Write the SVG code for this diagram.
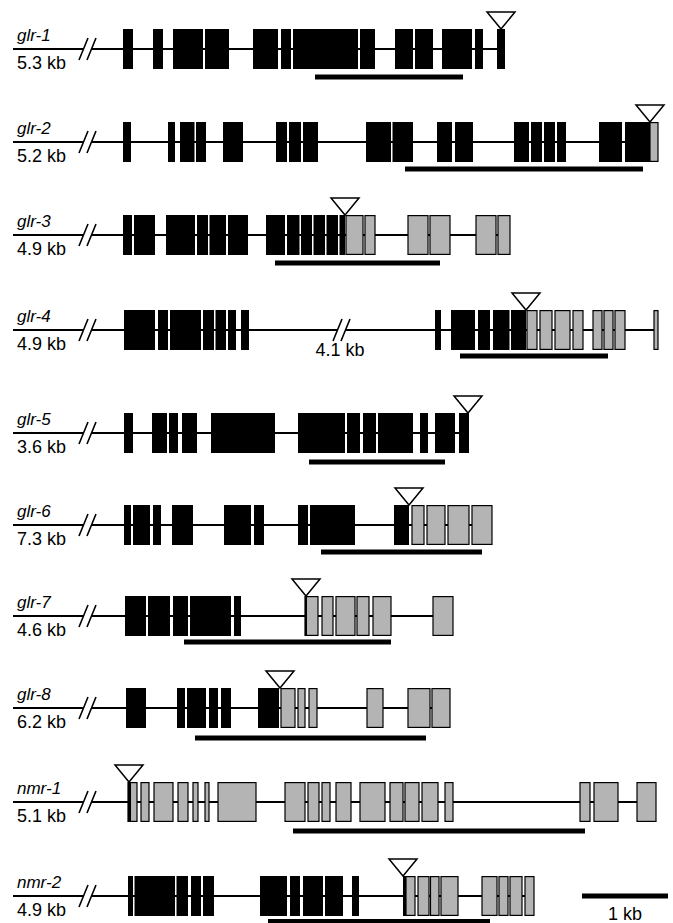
<svg xmlns="http://www.w3.org/2000/svg" width="673" height="923" viewBox="0 0 673 923">
<defs>
<style>
.ln{stroke:#000;stroke-width:1.8;fill:none}
.brk{stroke:#000;stroke-width:1.6;fill:none}
.bx{fill:#000}
.gx{fill:#b4b4b4;stroke:#000;stroke-width:1.2}
.tri{fill:#fff;stroke:#000;stroke-width:1.5}
.bar{fill:#000}
.nm{font-family:"Liberation Sans",Arial,sans-serif;font-style:italic;font-size:17px;fill:#000}
.kb{font-family:"Liberation Sans",Arial,sans-serif;font-size:18px;fill:#000}
</style>
</defs>
<rect x="0" y="0" width="673" height="923" fill="#fff"/>

<g id="glr-1" transform="translate(0,49)">
<text class="nm" x="17" y="-8">glr-1</text><text class="kb" x="17" y="20">5.3 kb</text>
<path class="ln" d="M13 0H83.5M91.5 0H505"/><path class="brk" d="M79 11L88 -11M87 11L96 -11"/>
<g class="bx"><rect x="123" y="-20" width="10" height="40"/><rect x="153" y="-20" width="10" height="40"/><rect x="173" y="-20" width="30" height="40"/><rect x="205" y="-20" width="24" height="40"/><rect x="253" y="-20" width="25" height="40"/><rect x="281" y="-20" width="10" height="40"/><rect x="293" y="-20" width="65" height="40"/><rect x="360" y="-20" width="15" height="40"/><rect x="395" y="-20" width="18" height="40"/><rect x="415" y="-20" width="18" height="40"/><rect x="442" y="-20" width="30" height="40"/><rect x="475" y="-20" width="8" height="40"/><rect x="497" y="-20" width="8" height="40"/></g>
<polygon class="tri" points="487,-37 515,-37 501,-20"/>
<rect class="bar" x="315" y="25.5" width="148" height="5"/>
</g>

<g id="glr-2" transform="translate(0,142)">
<text class="nm" x="17" y="-8">glr-2</text><text class="kb" x="17" y="20">5.2 kb</text>
<path class="ln" d="M13 0H83.5M91.5 0H658"/><path class="brk" d="M79 11L88 -11M87 11L96 -11"/>
<g class="bx"><rect x="123" y="-20" width="8" height="40"/><rect x="168" y="-20" width="7" height="40"/><rect x="180" y="-20" width="14.5" height="40"/><rect x="196" y="-20" width="10" height="40"/><rect x="223" y="-20" width="20" height="40"/><rect x="276" y="-20" width="11" height="40"/><rect x="289" y="-20" width="12" height="40"/><rect x="303" y="-20" width="15" height="40"/><rect x="366" y="-20" width="25" height="40"/><rect x="392.5" y="-20" width="20.5" height="40"/><rect x="437" y="-20" width="15" height="40"/><rect x="455" y="-20" width="18" height="40"/><rect x="514" y="-20" width="15" height="40"/><rect x="531" y="-20" width="11" height="40"/><rect x="544" y="-20" width="11" height="40"/><rect x="557" y="-20" width="9" height="40"/><rect x="599" y="-20" width="23" height="40"/><rect x="625" y="-20" width="25" height="40"/></g>
<rect class="gx" x="650" y="-19.4" width="8" height="38.8"/>
<polygon class="tri" points="636,-37 664,-37 650,-20"/>
<rect class="bar" x="405" y="24.5" width="238" height="5"/>
</g>

<g id="glr-3" transform="translate(0,235)">
<text class="nm" x="17" y="-8">glr-3</text><text class="kb" x="17" y="20">4.9 kb</text>
<path class="ln" d="M13 0H83.5M91.5 0H510"/><path class="brk" d="M79 11L88 -11M87 11L96 -11"/>
<g class="bx"><rect x="123" y="-20" width="9" height="40"/><rect x="134" y="-20" width="21" height="40"/><rect x="166" y="-20" width="29" height="40"/><rect x="197" y="-20" width="11" height="40"/><rect x="209.5" y="-20" width="16.5" height="40"/><rect x="228" y="-20" width="20" height="40"/><rect x="266" y="-20" width="19" height="40"/><rect x="287" y="-20" width="12.5" height="40"/><rect x="301" y="-20" width="11" height="40"/><rect x="313.5" y="-20" width="11.5" height="40"/><rect x="326.5" y="-20" width="11.5" height="40"/><rect x="339.5" y="-20" width="5.5" height="40"/></g>
<g class="gx"><rect x="346" y="-19.4" width="17" height="38.8"/><rect x="365" y="-19.4" width="10" height="38.8"/><rect x="408" y="-19.4" width="20" height="38.8"/><rect x="430" y="-19.4" width="20" height="38.8"/><rect x="476" y="-19.4" width="20" height="38.8"/><rect x="498" y="-19.4" width="12" height="38.8"/></g>
<polygon class="tri" points="331,-37 359,-37 345,-20"/>
<rect class="bar" x="275" y="25.5" width="165" height="5"/>
</g>

<g id="glr-4" transform="translate(0,330)">
<text class="nm" x="17" y="-8">glr-4</text><text class="kb" x="17" y="20">4.9 kb</text>
<path class="ln" d="M13 0H83.5M91.5 0H337.5M345.5 0H658"/><path class="brk" d="M79 11L88 -11M87 11L96 -11M333 11L342 -11M341 11L350 -11"/>
<text class="kb" x="340" y="26" text-anchor="middle">4.1 kb</text>
<g class="bx"><rect x="124" y="-20" width="31" height="40"/><rect x="158" y="-20" width="10" height="40"/><rect x="170" y="-20" width="31" height="40"/><rect x="203" y="-20" width="11" height="40"/><rect x="215.5" y="-20" width="10.5" height="40"/><rect x="228" y="-20" width="8" height="40"/><rect x="241" y="-20" width="8" height="40"/><rect x="435" y="-20" width="6" height="40"/><rect x="451" y="-20" width="24" height="40"/><rect x="478" y="-20" width="12" height="40"/><rect x="493" y="-20" width="16.5" height="40"/><rect x="511" y="-20" width="15" height="40"/></g>
<g class="gx"><rect x="527" y="-19.4" width="10" height="38.8"/><rect x="540" y="-19.4" width="12" height="38.8"/><rect x="555" y="-19.4" width="15" height="38.8"/><rect x="573" y="-19.4" width="10" height="38.8"/><rect x="593" y="-19.4" width="9" height="38.8"/><rect x="604" y="-19.4" width="9" height="38.8"/><rect x="615" y="-19.4" width="10" height="38.8"/><rect x="654" y="-19.4" width="4" height="38.8"/></g>
<polygon class="tri" points="512,-37 540,-37 526,-20"/>
<rect class="bar" x="460" y="23.5" width="148" height="5"/>
</g>

<g id="glr-5" transform="translate(0,433)">
<text class="nm" x="17" y="-8">glr-5</text><text class="kb" x="17" y="20">3.6 kb</text>
<path class="ln" d="M13 0H83.5M91.5 0H469"/><path class="brk" d="M79 11L88 -11M87 11L96 -11"/>
<g class="bx"><rect x="124" y="-20" width="9" height="40"/><rect x="152" y="-20" width="15" height="40"/><rect x="169" y="-20" width="9" height="40"/><rect x="182" y="-20" width="15" height="40"/><rect x="211" y="-20" width="64" height="40"/><rect x="298" y="-20" width="47" height="40"/><rect x="347" y="-20" width="13" height="40"/><rect x="363" y="-20" width="13" height="40"/><rect x="378" y="-20" width="35" height="40"/><rect x="420" y="-20" width="8" height="40"/><rect x="435" y="-20" width="20" height="40"/><rect x="459" y="-20" width="10" height="40"/></g>
<polygon class="tri" points="454,-37 482,-37 468,-20"/>
<rect class="bar" x="309" y="26.5" width="136" height="5"/>
</g>

<g id="glr-6" transform="translate(0,525)">
<text class="nm" x="17" y="-8">glr-6</text><text class="kb" x="17" y="20">7.3 kb</text>
<path class="ln" d="M13 0H83.5M91.5 0H492"/><path class="brk" d="M79 11L88 -11M87 11L96 -11"/>
<g class="bx"><rect x="124" y="-20" width="7" height="40"/><rect x="133" y="-20" width="17" height="40"/><rect x="153" y="-20" width="8" height="40"/><rect x="172" y="-20" width="21" height="40"/><rect x="224" y="-20" width="27" height="40"/><rect x="254" y="-20" width="10" height="40"/><rect x="298" y="-20" width="10" height="40"/><rect x="310" y="-20" width="45" height="40"/><rect x="394" y="-20" width="15" height="40"/></g>
<g class="gx"><rect x="412" y="-19.4" width="12" height="38.8"/><rect x="427" y="-19.4" width="18" height="38.8"/><rect x="448" y="-19.4" width="21" height="38.8"/><rect x="472" y="-19.4" width="20" height="38.8"/></g>
<polygon class="tri" points="395,-37 423,-37 409,-20"/>
<rect class="bar" x="321" y="24.5" width="161" height="5"/>
</g>

<g id="glr-7" transform="translate(0,616)">
<text class="nm" x="17" y="-8">glr-7</text><text class="kb" x="17" y="20">4.6 kb</text>
<path class="ln" d="M13 0H83.5M91.5 0H453"/><path class="brk" d="M79 11L88 -11M87 11L96 -11"/>
<g class="bx"><rect x="125" y="-20" width="21" height="40"/><rect x="148" y="-20" width="22" height="40"/><rect x="173" y="-20" width="15" height="40"/><rect x="190" y="-20" width="41" height="40"/><rect x="234" y="-20" width="7" height="40"/></g>
<g class="gx"><rect x="305" y="-19.4" width="13" height="38.8"/><rect x="322" y="-19.4" width="11" height="38.8"/><rect x="336" y="-19.4" width="19" height="38.8"/><rect x="357" y="-19.4" width="12" height="38.8"/><rect x="373" y="-19.4" width="18" height="38.8"/><rect x="433" y="-19.4" width="20" height="38.8"/></g>
<rect class="bx" x="305" y="-20" width="2" height="40"/>
<polygon class="tri" points="292,-37 320,-37 306,-20"/>
<rect class="bar" x="184" y="23.5" width="207" height="5"/>
</g>

<g id="glr-8" transform="translate(0,708)">
<text class="nm" x="17" y="-8">glr-8</text><text class="kb" x="17" y="20">6.2 kb</text>
<path class="ln" d="M13 0H83.5M91.5 0H450"/><path class="brk" d="M79 11L88 -11M87 11L96 -11"/>
<g class="bx"><rect x="126" y="-20" width="20" height="40"/><rect x="177" y="-20" width="8" height="40"/><rect x="187" y="-20" width="19" height="40"/><rect x="209" y="-20" width="9" height="40"/><rect x="221" y="-20" width="10" height="40"/><rect x="258" y="-20" width="21" height="40"/></g>
<g class="gx"><rect x="281" y="-19.4" width="14" height="38.8"/><rect x="298" y="-19.4" width="7" height="38.8"/><rect x="309" y="-19.4" width="8" height="38.8"/><rect x="367" y="-19.4" width="16" height="38.8"/><rect x="408" y="-19.4" width="22" height="38.8"/><rect x="432" y="-19.4" width="18" height="38.8"/></g>
<polygon class="tri" points="266,-37 294,-37 280,-20"/>
<rect class="bar" x="195" y="27.5" width="231" height="5"/>
</g>

<g id="nmr-1" transform="translate(0,802)">
<text class="nm" x="17" y="-8">nmr-1</text><text class="kb" x="17" y="20">5.1 kb</text>
<path class="ln" d="M13 0H83.5M91.5 0H656"/><path class="brk" d="M79 11L88 -11M87 11L96 -11"/>
<g class="gx"><rect x="128" y="-19.4" width="9" height="38.8"/><rect x="141" y="-19.4" width="8" height="38.8"/><rect x="154" y="-19.4" width="19" height="38.8"/><rect x="178" y="-19.4" width="10" height="38.8"/><rect x="193" y="-19.4" width="5" height="38.8"/><rect x="205" y="-19.4" width="4" height="38.8"/><rect x="218" y="-19.4" width="38" height="38.8"/><rect x="285" y="-19.4" width="20" height="38.8"/><rect x="308" y="-19.4" width="11" height="38.8"/><rect x="322" y="-19.4" width="8" height="38.8"/><rect x="336" y="-19.4" width="15" height="38.8"/><rect x="360" y="-19.4" width="25" height="38.8"/><rect x="390" y="-19.4" width="13" height="38.8"/><rect x="405" y="-19.4" width="14" height="38.8"/><rect x="422" y="-19.4" width="16" height="38.8"/><rect x="445" y="-19.4" width="8" height="38.8"/><rect x="580" y="-19.4" width="10" height="38.8"/><rect x="594" y="-19.4" width="24" height="38.8"/><rect x="637" y="-19.4" width="19" height="38.8"/></g>
<rect class="bx" x="128" y="-20" width="3" height="40"/>
<polygon class="tri" points="115,-37 143,-37 129,-20"/>
<rect class="bar" x="293" y="26.5" width="292" height="5"/>
</g>

<g id="nmr-2" transform="translate(0,896)">
<text class="nm" x="17" y="-8">nmr-2</text><text class="kb" x="17" y="20">4.9 kb</text>
<path class="ln" d="M13 0H83.5M91.5 0H534"/><path class="brk" d="M79 11L88 -11M87 11L96 -11"/>
<g class="bx"><rect x="128" y="-20" width="5" height="40"/><rect x="134.5" y="-20" width="40.5" height="40"/><rect x="176.5" y="-20" width="11.5" height="40"/><rect x="191" y="-20" width="10" height="40"/><rect x="203" y="-20" width="11" height="40"/><rect x="260" y="-20" width="27" height="40"/><rect x="290" y="-20" width="10" height="40"/><rect x="303" y="-20" width="20" height="40"/><rect x="325" y="-20" width="18" height="40"/><rect x="352" y="-20" width="7" height="40"/><rect x="403" y="-20" width="3" height="40"/></g>
<g class="gx"><rect x="406" y="-19.4" width="9" height="38.8"/><rect x="418" y="-19.4" width="11" height="38.8"/><rect x="430.5" y="-19.4" width="8.5" height="38.8"/><rect x="441" y="-19.4" width="17" height="38.8"/><rect x="482" y="-19.4" width="15" height="38.8"/><rect x="499" y="-19.4" width="9" height="38.8"/><rect x="510" y="-19.4" width="12" height="38.8"/><rect x="525" y="-19.4" width="9" height="38.8"/></g>
<polygon class="tri" points="389,-37 417,-37 403,-20"/>
<rect class="bar" x="268" y="23" width="222" height="5"/>
</g>

<g id="scale">
<rect class="bar" x="582" y="893.5" width="86" height="5"/>
<text class="kb" x="625" y="920" text-anchor="middle">1 kb</text>
</g>
</svg>
